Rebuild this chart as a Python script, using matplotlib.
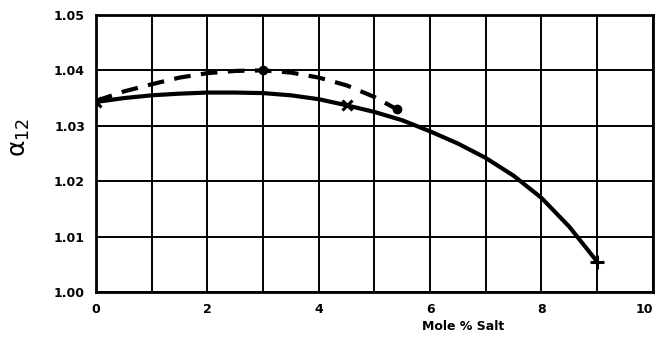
import numpy as np
import matplotlib
matplotlib.use('Agg')
import matplotlib.pyplot as plt

# values
solid_x = [0, 0.5, 1, 1.5, 2, 2.5, 3, 3.5, 4, 4.5, 5, 5.5, 6, 6.5, 7, 7.5, 8, 8.5, 9]
solid_y = [1.0343, 1.0350, 1.0355, 1.0358, 1.0360, 1.0360, 1.0359, 1.0355, 1.0348,
           1.0337, 1.0325, 1.0310, 1.0290, 1.0268, 1.0242, 1.0210, 1.0170, 1.0118, 1.0055]
solid_x_mk = [0, 4.5]
solid_y_mk = [1.0343, 1.0337]
solid_end_x = [9]
solid_end_y = [1.0055]

dash_x = [0, 0.5, 1, 1.5, 2, 2.5, 3, 3.5, 4, 4.5, 5, 5.4]
dash_y = [1.0345, 1.0362, 1.0375, 1.0387, 1.0395, 1.0399, 1.0400, 1.0396, 1.0387,
          1.0373, 1.0352, 1.0330]
dash_mk_x = [3, 5.4]
dash_mk_y = [1.0400, 1.0330]

xticks = [0, 2, 4, 6, 8, 10]
yticks = [1.00, 1.01, 1.02, 1.03, 1.04, 1.05]

fig = plt.figure(figsize=(6.58, 3.4), dpi=100)
ax = fig.add_axes([0.146, 0.141, 0.846, 0.815])

ax.set_xlim(0, 10)
ax.set_ylim(1.00, 1.05)
ax.set_xticks(xticks)
ax.set_xticks(np.arange(1, 10, 2), minor=True)
ax.set_yticks(yticks)
ax.grid(True, color='black', lw=1.4)
ax.grid(True, which='minor', axis='x', color='black', lw=1.4)
ax.set_xticklabels([str(t) for t in xticks], fontsize=9, fontweight='bold')
ax.set_yticklabels(['%.2f' % t for t in yticks], fontsize=9, fontweight='bold')
ax.get_xticklabels()[-1].set_horizontalalignment('right')
ax.tick_params(which='both', length=0, pad=8)
for s in ax.spines.values():
    s.set_linewidth(2)

ax.plot(solid_x, solid_y, color='black', lw=3, solid_capstyle='round')
ax.plot(solid_x_mk, solid_y_mk, ls='none', marker='x', ms=7, mew=2.2, color='black')
ax.plot(solid_end_x, solid_end_y, ls='none', marker='+', ms=10, mew=2.2, color='black')
ax.plot(dash_x, dash_y, color='black', lw=3, ls=(0, (4, 2.5)))
ax.plot(dash_mk_x, dash_mk_y, ls='none', marker='o', ms=6, color='black')

ax.set_xlabel('Mole % Salt', fontsize=9, fontweight='bold')
ax.xaxis.set_label_coords(0.66, -0.1)
ax.set_ylabel(r'$\mathregular{\alpha_{12}}$', fontsize=18)
ax.yaxis.set_label_coords(-0.115, 0.56)

fig.savefig('out.png', dpi=100)
